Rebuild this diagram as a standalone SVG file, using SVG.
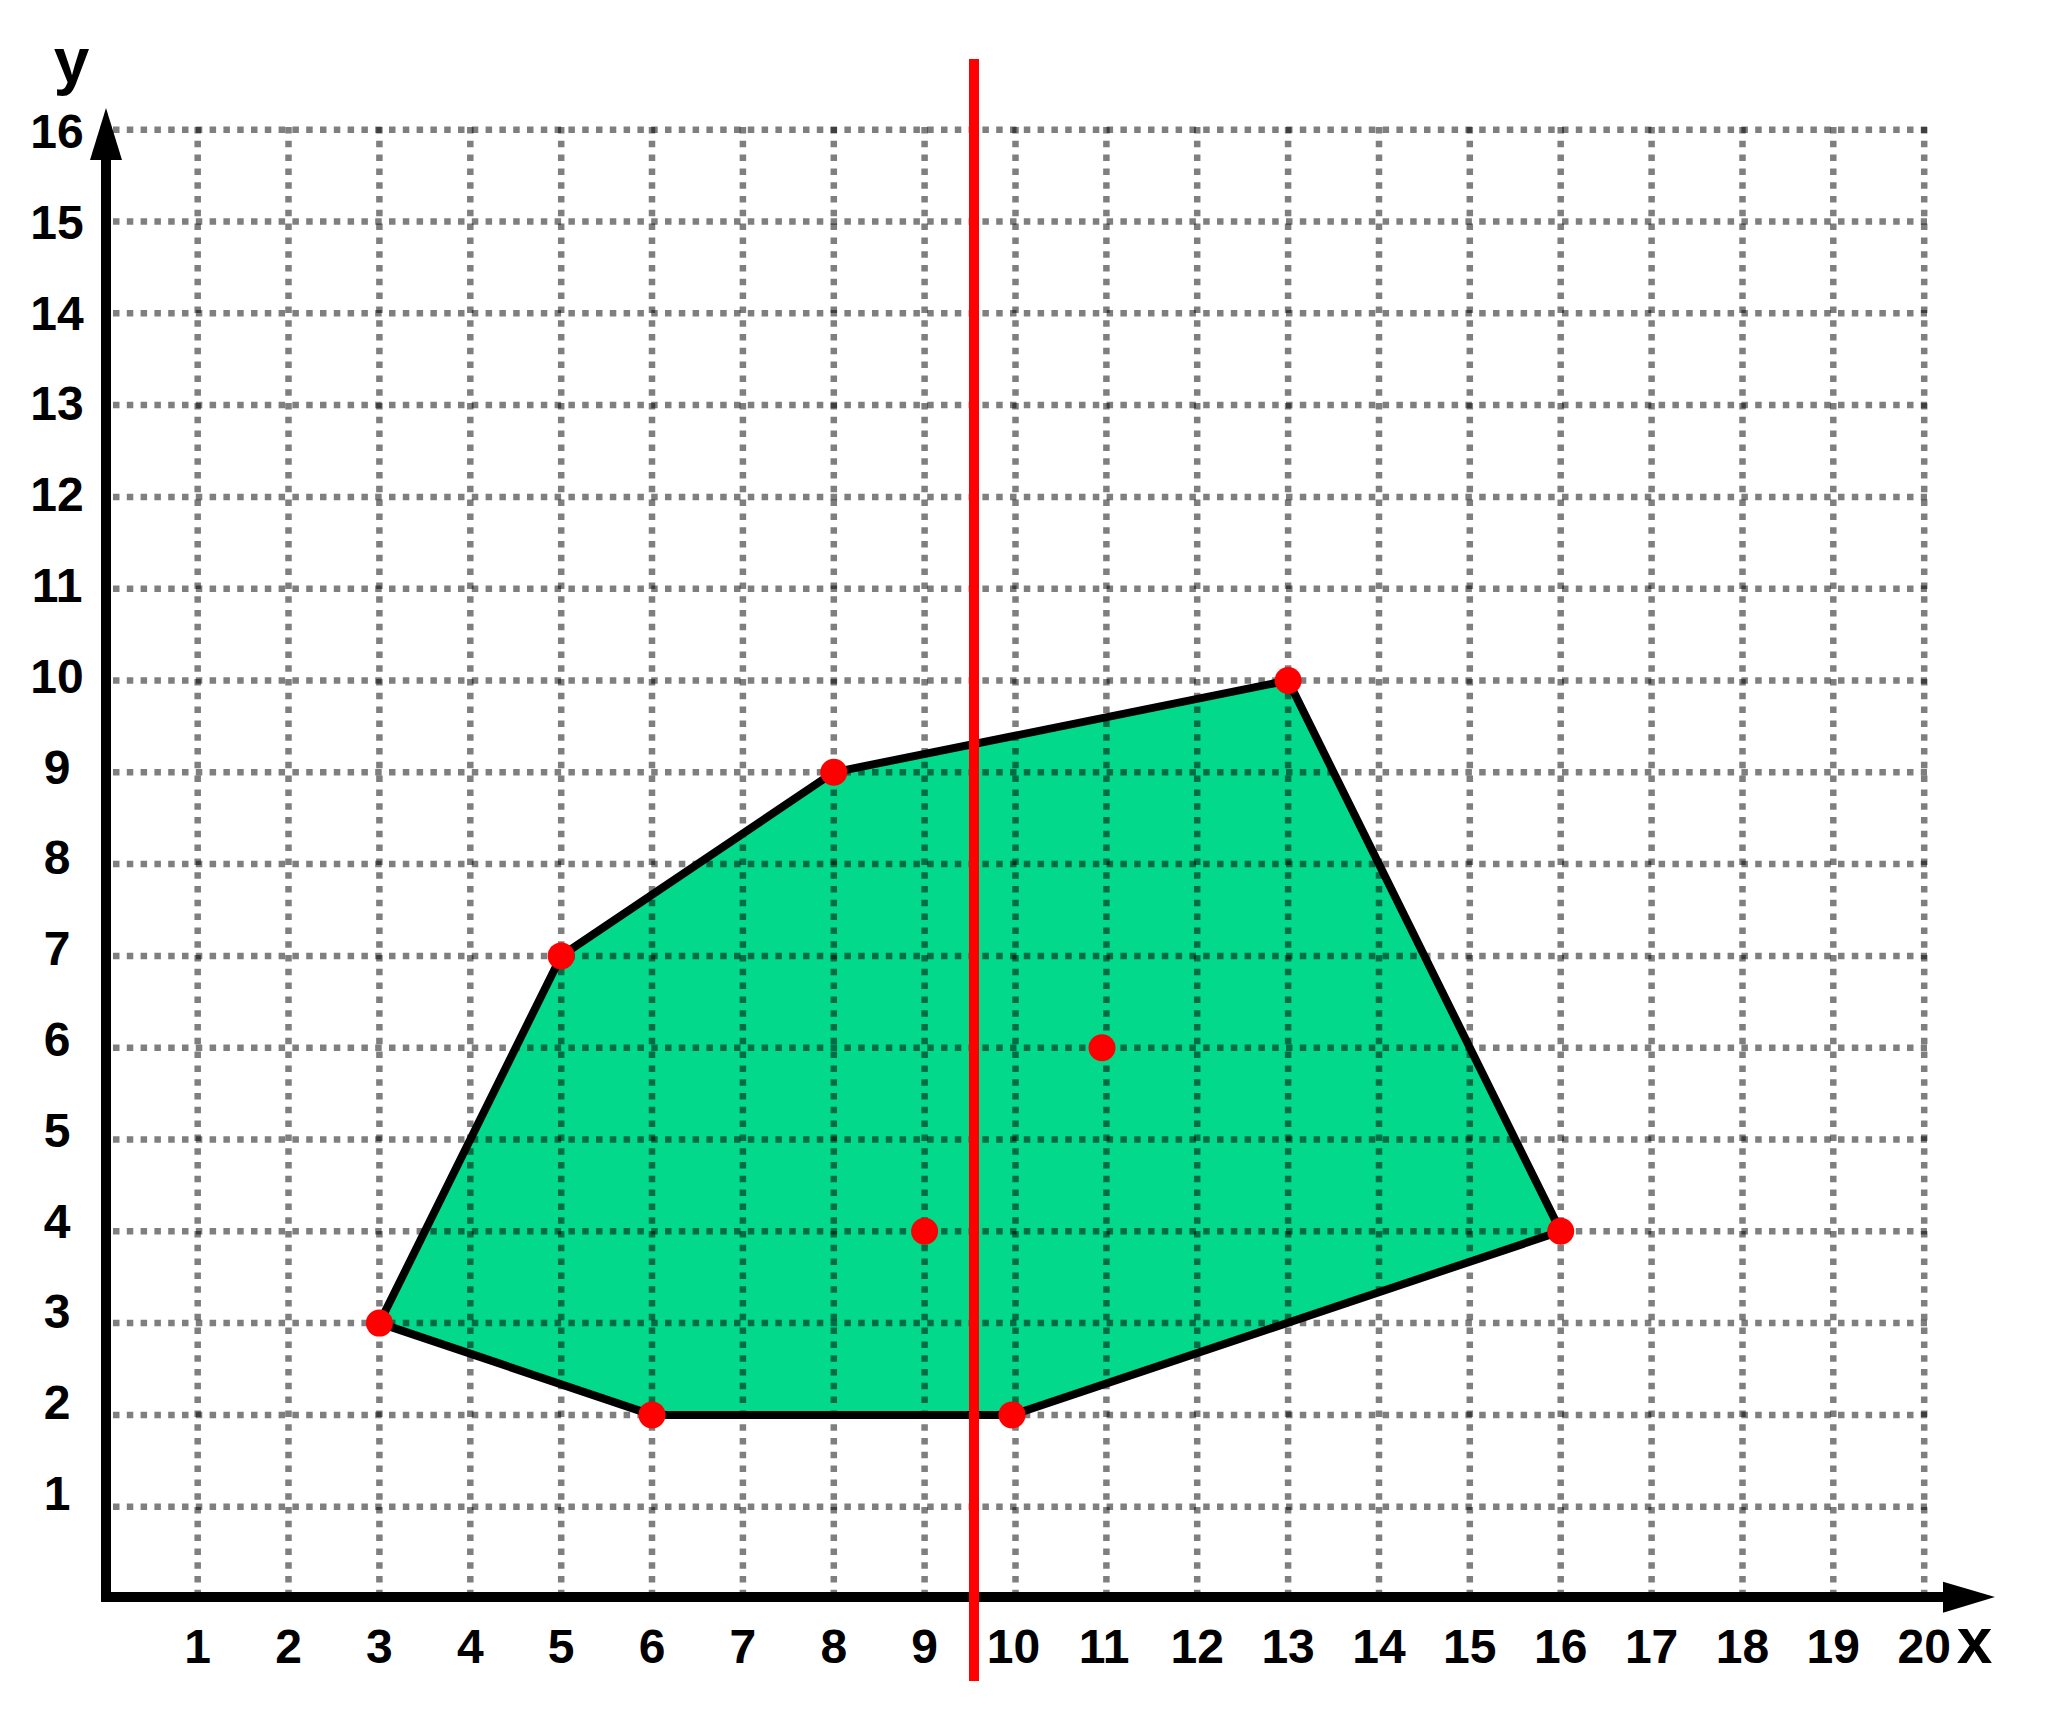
<svg xmlns="http://www.w3.org/2000/svg" width="2048" height="1718" viewBox="0 0 2048 1718">
<style>
.grid line{stroke:#000;stroke-opacity:0.5;stroke-width:6.5;stroke-dasharray:6.5 7.3}
.lbl{font-family:"Liberation Sans",Arial,sans-serif;font-weight:bold;font-size:48px;fill:#000;text-anchor:middle}
.ax{font-family:"Liberation Sans",Arial,sans-serif;font-weight:bold;font-size:64px;fill:#000;text-anchor:middle}
.dot{fill:#ff0000}
</style>
<rect width="2048" height="1718" fill="#fff"/>
<g id="polygon-fill">
<polygon points="379.4,1323.1 561.2,955.9 833.8,772.3 1288.1,680.5 1560.7,1231.3 1012.5,1414.9 652,1414.9" fill="#02d98b"/>
</g>
<g id="grid" class="grid">
<line x1="113" y1="1506.7" x2="1927" y2="1506.7"/>
<line x1="113" y1="1414.9" x2="1927" y2="1414.9"/>
<line x1="113" y1="1323.1" x2="1927" y2="1323.1"/>
<line x1="113" y1="1231.3" x2="1927" y2="1231.3"/>
<line x1="113" y1="1139.5" x2="1927" y2="1139.5"/>
<line x1="113" y1="1047.7" x2="1927" y2="1047.7"/>
<line x1="113" y1="955.9" x2="1927" y2="955.9"/>
<line x1="113" y1="864.1" x2="1927" y2="864.1"/>
<line x1="113" y1="772.3" x2="1927" y2="772.3"/>
<line x1="113" y1="680.5" x2="1927" y2="680.5"/>
<line x1="113" y1="588.7" x2="1927" y2="588.7"/>
<line x1="113" y1="496.9" x2="1927" y2="496.9"/>
<line x1="113" y1="405.1" x2="1927" y2="405.1"/>
<line x1="113" y1="313.3" x2="1927" y2="313.3"/>
<line x1="113" y1="221.5" x2="1927" y2="221.5"/>
<line x1="113" y1="129.7" x2="1927" y2="129.7"/>
<line x1="197.7" y1="127" x2="197.7" y2="1592"/>
<line x1="288.5" y1="127" x2="288.5" y2="1592"/>
<line x1="379.4" y1="127" x2="379.4" y2="1592"/>
<line x1="470.3" y1="127" x2="470.3" y2="1592"/>
<line x1="561.2" y1="127" x2="561.2" y2="1592"/>
<line x1="652" y1="127" x2="652" y2="1592"/>
<line x1="742.9" y1="127" x2="742.9" y2="1592"/>
<line x1="833.8" y1="127" x2="833.8" y2="1592"/>
<line x1="924.6" y1="127" x2="924.6" y2="1592"/>
<line x1="1015.5" y1="127" x2="1015.5" y2="1592"/>
<line x1="1106.4" y1="127" x2="1106.4" y2="1592"/>
<line x1="1197.2" y1="127" x2="1197.2" y2="1592"/>
<line x1="1288.1" y1="127" x2="1288.1" y2="1592"/>
<line x1="1379" y1="127" x2="1379" y2="1592"/>
<line x1="1469.8" y1="127" x2="1469.8" y2="1592"/>
<line x1="1560.7" y1="127" x2="1560.7" y2="1592"/>
<line x1="1651.6" y1="127" x2="1651.6" y2="1592"/>
<line x1="1742.5" y1="127" x2="1742.5" y2="1592"/>
<line x1="1833.3" y1="127" x2="1833.3" y2="1592"/>
<line x1="1924.2" y1="127" x2="1924.2" y2="1592"/>
</g>
<g id="polygon-outline">
<polygon points="379.4,1323.1 561.2,955.9 833.8,772.3 1288.1,680.5 1560.7,1231.3 1012.5,1414.9 652,1414.9" fill="none" stroke="#000" stroke-width="8" stroke-linejoin="round"/>
</g>
<g id="points">
<circle class="dot" cx="379.4" cy="1323.1" r="13.5"/>
<circle class="dot" cx="561.2" cy="955.9" r="13.5"/>
<circle class="dot" cx="833.8" cy="772.3" r="13.5"/>
<circle class="dot" cx="1288.1" cy="680.5" r="13.5"/>
<circle class="dot" cx="1560.7" cy="1231.3" r="13.5"/>
<circle class="dot" cx="1012" cy="1414.9" r="13.5"/>
<circle class="dot" cx="652" cy="1414.9" r="13.5"/>
<circle class="dot" cx="924.6" cy="1231.3" r="13.5"/>
<circle class="dot" cx="1102" cy="1047.7" r="13.5"/>
</g>
<g id="axes">
<line x1="106" y1="1602" x2="106" y2="155" stroke="#000" stroke-width="10"/>
<polygon points="106,108 122,160 90,160" fill="#000"/>
<line x1="101" y1="1597" x2="1948" y2="1597" stroke="#000" stroke-width="10"/>
<polygon points="1995,1597 1943,1581.7 1943,1612.7" fill="#000"/>
<text class="ax" x="71.5" y="83">y</text>
<text class="ax" x="1974.5" y="1663">x</text>
</g>
<g id="y-labels">
<text class="lbl" x="57" y="148">16</text>
<text class="lbl" x="57" y="238.8">15</text>
<text class="lbl" x="57" y="329.6">14</text>
<text class="lbl" x="57" y="420.4">13</text>
<text class="lbl" x="57" y="511.2">12</text>
<text class="lbl" x="57" y="602">11</text>
<text class="lbl" x="57" y="692.8">10</text>
<text class="lbl" x="57" y="783.6">9</text>
<text class="lbl" x="57" y="874.4">8</text>
<text class="lbl" x="57" y="965.2">7</text>
<text class="lbl" x="57" y="1056">6</text>
<text class="lbl" x="57" y="1146.8">5</text>
<text class="lbl" x="57" y="1237.6">4</text>
<text class="lbl" x="57" y="1328.4">3</text>
<text class="lbl" x="57" y="1419.2">2</text>
<text class="lbl" x="57" y="1510">1</text>
</g>
<g id="x-labels">
<text class="lbl" x="197.7" y="1663">1</text>
<text class="lbl" x="288.5" y="1663">2</text>
<text class="lbl" x="379.4" y="1663">3</text>
<text class="lbl" x="470.3" y="1663">4</text>
<text class="lbl" x="561.2" y="1663">5</text>
<text class="lbl" x="652" y="1663">6</text>
<text class="lbl" x="742.9" y="1663">7</text>
<text class="lbl" x="833.8" y="1663">8</text>
<text class="lbl" x="924.6" y="1663">9</text>
<text class="lbl" x="1013.5" y="1663">10</text>
<text class="lbl" x="1104" y="1663">11</text>
<text class="lbl" x="1197.2" y="1663">12</text>
<text class="lbl" x="1288.1" y="1663">13</text>
<text class="lbl" x="1379" y="1663">14</text>
<text class="lbl" x="1469.8" y="1663">15</text>
<text class="lbl" x="1560.7" y="1663">16</text>
<text class="lbl" x="1651.6" y="1663">17</text>
<text class="lbl" x="1742.5" y="1663">18</text>
<text class="lbl" x="1833.3" y="1663">19</text>
<text class="lbl" x="1924.2" y="1663">20</text>
</g>
<g id="split-line">
<line x1="974" y1="59" x2="974" y2="1681" stroke="#ff0000" stroke-width="10"/>
</g>
</svg>
